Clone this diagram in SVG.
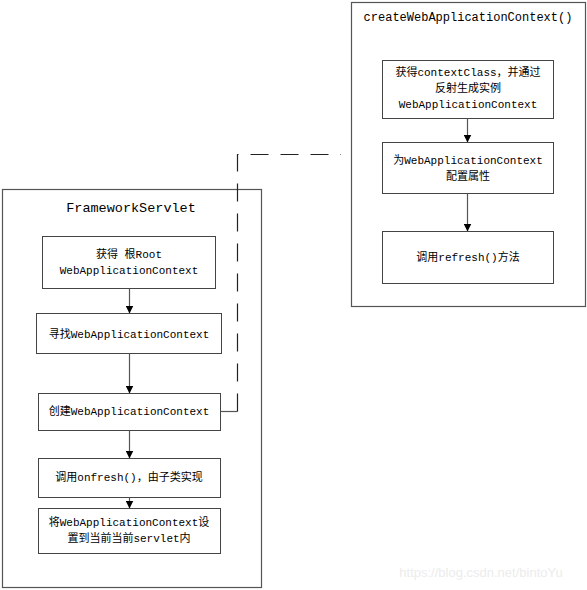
<svg xmlns="http://www.w3.org/2000/svg" width="587" height="590" viewBox="0 0 587 590">
<defs>
<style>
.outer{fill:#fff;stroke:#555;stroke-width:1.2}
.box{fill:#fff;stroke:#444;stroke-width:1}
.t{font-family:"Liberation Mono","Noto Sans CJK SC",monospace;font-size:11px;fill:#000;text-anchor:middle}
.title{font-family:"Liberation Mono","Noto Sans CJK SC",monospace;fill:#000;text-anchor:middle}
.edge{stroke:#555;stroke-width:1.2;fill:none}
.dash{stroke:#222;stroke-width:1.2;fill:none;stroke-dasharray:18 12}
</style>
<marker id="arr" viewBox="0 0 10 10" refX="10" refY="5" markerWidth="8" markerHeight="8" markerUnits="userSpaceOnUse" orient="auto">
<path d="M0,0 L10,5 L0,10 Z" fill="#000"/>
</marker>
</defs>
<rect width="587" height="590" fill="#fff"/>
<g id="createWAC">
<rect class="outer" x="351.5" y="2.5" width="234" height="304"/>
<text class="title" x="468" y="21" font-size="12">createWebApplicationContext()</text>
</g>
<g id="c1"><rect class="box" x="382.5" y="60.5" width="171" height="58"/>
<text class="t" x="468" y="76">获得contextClass，并通过</text>
<text class="t" x="468" y="92">反射生成实例</text>
<text class="t" x="468" y="108">WebApplicationContext</text></g>
<g id="c2"><rect class="box" x="382.5" y="142.5" width="171" height="51"/>
<text class="t" x="468" y="164">为WebApplicationContext</text>
<text class="t" x="468" y="180">配置属性</text></g>
<g id="c3"><rect class="box" x="382.5" y="231.5" width="171" height="52"/>
<text class="t" x="468" y="261">调用refresh()方法</text></g>
<g id="framework">
<rect class="outer" x="2.5" y="189.5" width="259" height="398"/>
<text class="title" x="131" y="212" font-size="13.5">FrameworkServlet</text>
</g>
<g id="f1"><rect class="box" x="42.5" y="236.5" width="173" height="52"/>
<text class="t" x="129" y="258">获得 根Root</text>
<text class="t" x="129" y="274">WebApplicationContext</text></g>
<g id="f2"><rect class="box" x="36.5" y="313.5" width="185" height="40"/>
<text class="t" x="129" y="338">寻找WebApplicationContext</text></g>
<g id="f3"><rect class="box" x="38.5" y="393.5" width="182" height="37"/>
<text class="t" x="129" y="415">创建WebApplicationContext</text></g>
<g id="f4"><rect class="box" x="38.5" y="458.5" width="182" height="39"/>
<text class="t" x="129" y="481">调用onfresh()，由子类实现</text></g>
<g id="f5"><rect class="box" x="38.5" y="508.5" width="182" height="45"/>
<text class="t" x="129" y="526">将WebApplicationContext设</text>
<text class="t" x="129" y="542">置到当前当前servlet内</text></g>
<g id="connectors">
<line class="edge" x1="467.5" y1="118.5" x2="467.5" y2="142.5" marker-end="url(#arr)"/>
<line class="edge" x1="467.5" y1="193.5" x2="467.5" y2="231.5" marker-end="url(#arr)"/>
<line class="edge" x1="129.5" y1="288.5" x2="129.5" y2="313.5" marker-end="url(#arr)"/>
<line class="edge" x1="129.5" y1="353.5" x2="129.5" y2="393.5" marker-end="url(#arr)"/>
<line class="edge" x1="129.5" y1="430.5" x2="129.5" y2="458.5" marker-end="url(#arr)"/>
<line class="edge" x1="129.5" y1="497.5" x2="129.5" y2="508.5" marker-end="url(#arr)"/>
<line class="edge" x1="220.5" y1="411.5" x2="237.5" y2="411.5"/>
<path class="dash" d="M237.5,411.5 V154.5 H341"/>
</g>
<text x="481" y="577" font-family="Liberation Sans,Arial,sans-serif" font-size="13" fill="#ececec" text-anchor="middle">https://blog.csdn.net/bintoYu</text>
</svg>
